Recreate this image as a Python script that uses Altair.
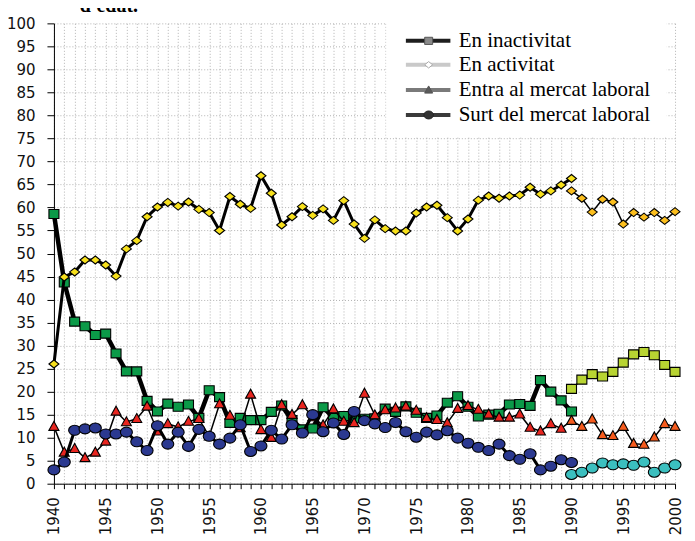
import altair as alt
import pandas as pd

# ---------------- data ----------------
years_a = list(range(1940, 1991))
years_b = list(range(1990, 2001))
years_all = list(range(1940, 2001))

inact_a = [58.6, 43.7, 35.2, 34.2, 32.3, 32.6, 28.3, 24.4, 24.4, 18.0,
           15.7, 17.4, 16.7, 17.2, 14.3, 20.3, 18.8, 13.2, 14.3, 13.8,
           13.8, 15.6, 17.0, 13.8, 11.8, 12.0, 16.6, 14.3, 14.7, 14.2,
           14.1, 14.2, 16.3, 15.6, 16.8, 15.4, 14.3, 14.8, 17.6, 19.0,
           16.7, 14.6, 15.0, 15.2, 17.2, 17.3, 16.9, 22.5, 20.0, 18.1,
           15.7]
inact_b = [20.6, 22.6, 23.8, 23.3, 24.3, 26.3, 28.1, 28.6, 27.9, 25.8, 24.3]

act_a = [26.0, 44.9, 46.0, 48.6, 48.6, 47.5, 45.1, 51.0, 52.8, 58.0,
         60.1, 61.1, 60.3, 61.2, 59.6, 58.9, 55.0, 62.4, 60.7, 59.8,
         66.9, 63.1, 56.2, 58.0, 60.2, 58.3, 59.7, 57.2, 61.5, 56.4,
         53.3, 57.3, 55.4, 54.9, 54.9, 58.8, 60.1, 60.5, 57.8, 54.9,
         57.5, 61.6, 62.5, 62.0, 62.5, 62.7, 64.4, 62.9, 63.6, 64.9,
         66.3]
act_b = [63.6, 62.0, 59.0, 61.8, 61.2, 56.4, 58.9, 57.9, 58.9, 57.2, 59.1]

entra = [12.4, 6.8, 7.6, 5.6, 6.8, 9.2, 15.7, 13.4, 14.1, 16.8,
         11.4, 13.0, 12.3, 13.5, 14.1, 10.3, 17.3, 14.8, 12.1, 19.4,
         11.7, 10.0, 17.1, 15.0, 17.1, 14.5, 12.7, 16.2, 13.5, 13.2,
         19.6, 14.9, 16.0, 16.4, 16.8, 15.9, 14.3, 13.9, 13.2, 16.3,
         16.9, 16.1, 15.1, 14.4, 14.4, 15.1, 12.2, 11.4, 13.0, 12.0,
         13.7, 12.4, 14.0, 10.6, 10.4, 12.4, 8.7, 8.5, 10.1, 13.0,
         12.4]

surt_a = [3.0, 4.7, 11.6, 11.9, 12.1, 10.8, 10.8, 11.2, 9.1, 7.2,
          12.6, 8.6, 11.2, 8.1, 11.8, 10.3, 8.6, 9.9, 12.8, 7.0,
          8.2, 11.6, 9.7, 12.8, 11.0, 15.0, 11.3, 13.2, 10.7, 15.7,
          13.7, 13.0, 12.2, 13.3, 11.3, 10.1, 11.2, 10.6, 11.5, 9.9,
          8.8, 7.9, 7.2, 8.6, 6.1, 5.3, 6.5, 3.0, 3.8, 5.2,
          4.6]
surt_b = [2.0, 2.5, 3.4, 4.5, 4.1, 4.3, 4.0, 4.7, 2.5, 3.4, 4.1]

legend_labels = ["En inactivitat", "En activitat",
                 "Entra al mercat laboral", "Surt del mercat laboral"]
title_fragment = "d'edat."

# ---------------- styling ----------------
SQ = "M-1,-0.9H1V0.9H-1Z"
DI = "M-1,0L0,-0.8L1,0L0,0.8Z"
TR = "M-1,0.75L0,-1.05L1,0.75Z"
EL = "M-1.2,0A1.2,1,0,1,1,1.2,0A1.2,1,0,1,1,-1.2,0Z"

xscale = alt.Scale(domain=[1940, 2000], nice=False, zero=False)
yscale = alt.Scale(domain=[0, 100], nice=False)

xaxis = alt.Axis(values=years_all, format="d",
                 labelExpr="datum.value % 5 == 0 ? datum.label : ''",
                 labelAngle=-90, labelFont="DejaVu Sans", labelFontSize=15,
                 labelColor="#111111", labelPadding=8, labelOverlap=False,
                 tickSize=5, tickColor="black", domainColor="black",
                 grid=True, gridColor="#b3b3b3", gridDash=[1, 2], gridWidth=1,
                 title=None)
yaxis = alt.Axis(values=list(range(0, 101, 5)), labelFont="DejaVu Sans",
                 labelFontSize=15, labelColor="#111111", labelPadding=12,
                 tickSize=7, tickColor="black", domainColor="black",
                 grid=True, gridColor="#b3b3b3", gridDash=[1, 2], gridWidth=1,
                 title=None)


def X(f):
    return alt.X(f, type="quantitative", scale=xscale, axis=xaxis, title=None)


def Y(f):
    return alt.Y(f, type="quantitative", scale=yscale, axis=yaxis, title=None)


def frame(yrs, vals):
    return pd.DataFrame({"year": yrs, "value": vals})


def series(yrs, vals, width, shape, fill):
    d = frame(yrs, vals)
    base = alt.Chart(d)
    ln = base.mark_line(color="black", strokeWidth=width).encode(x=X("year"), y=Y("value"))
    pt = base.mark_point(shape=shape, filled=True, fill=fill, stroke="black",
                         strokeWidth=1.1, size=100, opacity=1).encode(x=X("year"), y=Y("value"))
    return [ln, pt]


layers = []
layers += series(years_a, inact_a, 4.5, SQ, "#0b9a48")
layers += series(years_a, act_a, 3, DI, "#f7e01c")

# entra al mercat laboral: one line, two marker colours
ent = frame(years_all, entra)
ent["period"] = ["a" if y < 1990 else "b" for y in years_all]
layers.append(alt.Chart(ent).mark_line(color="black", strokeWidth=1.5)
              .encode(x=X("year"), y=Y("value")))
layers.append(alt.Chart(ent).mark_point(shape=TR, filled=True, stroke="black",
                                        strokeWidth=1.1, size=100, opacity=1)
              .encode(x=X("year"), y=Y("value"),
                      fill=alt.Fill("period:N", scale=alt.Scale(domain=["a", "b"],
                                    range=["#e8251f", "#f65b1d"]), legend=None)))

layers += series(years_a, surt_a, 3, EL, "#2b3990")
layers += series(years_b, inact_b, 1.5, SQ, "#b8d432")
layers += series(years_b, act_b, 1.5, DI, "#fcbf1e")
layers += series(years_b, surt_b, 2, EL, "#3bbfbf")

# ---------------- legend (drawn in data coordinates) ----------------
box = pd.DataFrame({"year": [1972.1], "year2": [1999.2], "value": [75.4], "value2": [100.4]})
layers.append(alt.Chart(box).mark_rect(fill="white", stroke=None)
              .encode(x=X("year"), x2="year2", y=Y("value"), y2="value2"))

leg = pd.DataFrame({
    "label": legend_labels,
    "value": [96.2, 91.0, 85.5, 80.1],
    "x1": [1974.0] * 4, "x2": [1978.3] * 4, "xm": [1976.2] * 4, "xt": [1979.1] * 4,
    "lc": ["#1e1e1e", "#c9c9c9", "#7a7a7a", "#3a3a3a"],
    "fc": ["#8a8a8a", "#ffffff", "#5a5a5a", "#333333"],
    "sc": ["#555555", "#aaaaaa", "#555555", "#222222"],
    "shp": [SQ, DI, TR, EL],
})
layers.append(alt.Chart(leg).mark_rule(strokeWidth=4)
              .encode(x=X("x1"), x2="x2", y=Y("value"), color=alt.Color("lc:N", scale=None)))
layers.append(alt.Chart(leg).mark_point(filled=True, size=64, opacity=1, strokeWidth=1)
              .encode(x=X("xm"), y=Y("value"),
                      shape=alt.Shape("shp:N", scale=None),
                      fill=alt.Fill("fc:N", scale=None),
                      stroke=alt.Stroke("sc:N", scale=None)))
layers.append(alt.Chart(leg).mark_text(align="left", baseline="middle",
                                       font="Liberation Serif", fontSize=21, color="black")
              .encode(x=X("xt"), y=Y("value"), text="label:N"))

ttl = pd.DataFrame({"year": [1942.5], "value": [102.4], "t": [title_fragment]})
layers.append(alt.Chart(ttl).mark_text(align="left", baseline="alphabetic",
                                       font="Liberation Serif", fontSize=20,
                                       fontWeight="bold", color="black")
              .encode(x=X("year"), y=Y("value"), text="t:N"))

chart = alt.layer(*layers).properties(
    width=622, height=461,
    autosize=alt.AutoSizeParams(type="none"),
    padding={"left": 46, "top": 15, "right": 12, "bottom": 56},
    background="white",
).configure_view(stroke=None)

chart.save("out.html", embed_options={"renderer": "svg", "actions": False})
